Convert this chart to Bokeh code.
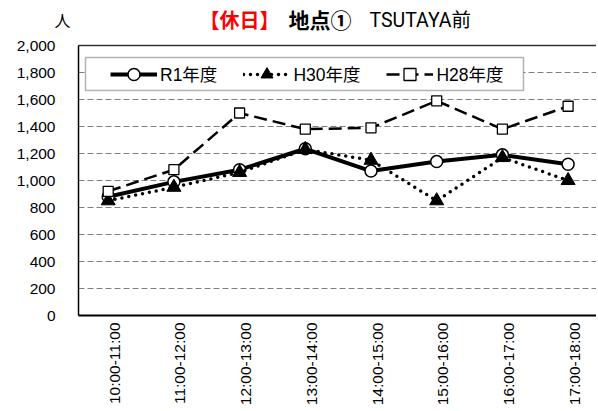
import math
from bokeh.plotting import figure
from bokeh.models import (Range1d, FixedTicker, NumeralTickFormatter, Label, Legend,
                          LegendItem, BoxAnnotation, LinearAxis)
from bokeh.embed import file_html
from bokeh.resources import INLINE

categories = ["10:00-11:00", "11:00-12:00", "12:00-13:00", "13:00-14:00",
              "14:00-15:00", "15:00-16:00", "16:00-17:00", "17:00-18:00"]
r1 = [880, 990, 1080, 1235, 1070, 1140, 1190, 1120]
h30 = [850, 950, 1060, 1230, 1150, 850, 1170, 1000]
h28 = [920, 1080, 1500, 1380, 1390, 1590, 1380, 1550]
series_names = ["R1年度", "H30年度", "H28年度"]
y_ticks = [0, 200, 400, 600, 800, 1000, 1200, 1400, 1600, 1800, 2000]
title_red = "【休日】"
title_black_1 = "地点①"
title_black_2 = "TSUTAYA前"
y_unit = "人"

FONT = "'Liberation Sans', 'Noto Sans CJK JP', sans-serif"
TFONT = "Roboto, 'Noto Sans CJK JP', sans-serif"

W, H = 596, 407
# plot area in canvas pixels
PL, PR, PT, PB = 78, 596, 45, 315
cat_px = 65.7
first_px = 107.7
x_left = -(first_px - PL) / cat_px
x_start = -first_px / cat_px
x_end = (W - first_px) / cat_px
x_right = (PR - first_px) / cat_px
y_per_px = y_ticks[-1] / (PB - PT)
y_start = -(H - PB) * y_per_px
y_end = y_ticks[-1] + PT * y_per_px
label_shift = 6 / cat_px

idx = list(range(len(categories)))

p = figure(width=W, height=H, title=None,
           x_range=Range1d(x_start, x_end), y_range=Range1d(y_start, y_end),
           output_backend="svg", toolbar_location=None,
           min_border=0, min_border_left=0, min_border_right=0,
           min_border_top=0, min_border_bottom=0)
p.outline_line_color = None
p.background_fill_color = "white"
p.border_fill_color = "white"

# horizontal grid lines, limited to the plot area
p.xgrid.visible = False
p.ygrid.visible = False
grid_vals = y_ticks[1:-1]
p.segment(x0=[x_left] * len(grid_vals), y0=grid_vals,
          x1=[x_right] * len(grid_vals), y1=grid_vals,
          line_color="#808080", line_width=1.2, line_dash="6 3")

# y axis
ya = p.yaxis[0]
ya.fixed_location = x_left
ya.bounds = (y_ticks[0], y_ticks[-1])
ya.ticker = FixedTicker(ticks=y_ticks)
ya.formatter = NumeralTickFormatter(format="0,0")
ya.major_tick_line_color = None
ya.minor_tick_line_color = None
ya.major_tick_out = 0
ya.major_tick_in = 0
ya.minor_tick_out = 0
ya.axis_line_color = "black"
ya.axis_line_width = 1.5
ya.major_label_standoff = 23
ya.major_label_text_font = FONT
ya.major_label_text_font_size = "15.5px"
ya.major_label_text_color = "black"

# x axis
xa = p.xaxis[0]
xa.fixed_location = y_ticks[0]
xa.bounds = (x_left, x_right)
x_label_pos = [i + label_shift for i in idx]
xa.ticker = FixedTicker(ticks=x_label_pos)
xa.major_label_overrides = {pos: c for pos, c in zip(x_label_pos, categories)}
xa.major_label_orientation = math.pi / 2
xa.major_tick_line_color = None
xa.minor_tick_line_color = None
xa.major_tick_out = 0
xa.major_tick_in = 0
xa.minor_tick_out = 0
xa.axis_line_color = "black"
xa.axis_line_width = 2
xa.major_label_standoff = 7
xa.major_label_text_font = FONT
xa.major_label_text_font_size = "15.5px"
xa.major_label_text_color = "black"

# top border line of the plot area
top = LinearAxis(fixed_location=y_ticks[-1], bounds=(x_left, x_right),
                 ticker=FixedTicker(ticks=[]), axis_line_color="#333333", axis_line_width=1.5,
                 major_tick_line_color=None, minor_tick_line_color=None,
                 major_tick_out=0, minor_tick_out=0)
p.add_layout(top, "above")

# series
l1 = p.line(idx, r1, line_color="black", line_width=4)
s1 = p.scatter(idx, r1, marker="circle", size=12, fill_color="white", line_color="black", line_width=1.5)
l2 = p.line(idx, h30, line_color="black", line_width=3.5, line_dash="0 7", line_cap="round")
s2 = p.scatter(idx, h30, marker="triangle", size=14, fill_color="black", line_color="black")
l3 = p.line(idx, h28, line_color="black", line_width=2.5, line_dash="13 6")
s3 = p.scatter(idx, h28, marker="square", size=10, fill_color="white", line_color="black", line_width=1.3)

# legend box (screen units from frame bottom-left)
box = BoxAnnotation(left=85, right=523, top=H - 57, bottom=H - 90,
                    left_units="screen", right_units="screen", top_units="screen", bottom_units="screen",
                    fill_color="white", fill_alpha=1.0, line_color="black", line_width=1.5)
p.add_layout(box)

legend = Legend(items=[LegendItem(label=series_names[0], renderers=[l1, s1]),
                       LegendItem(label=series_names[1], renderers=[l2, s2]),
                       LegendItem(label=series_names[2], renderers=[l3, s3])],
                location=(110, H - 73.5 - 15), orientation="horizontal",
                glyph_width=47, glyph_height=30, label_standoff=3, spacing=26,
                padding=5, margin=0, border_line_color=None, background_fill_alpha=0,
                label_text_font=FONT, label_text_font_size="17.5px", label_height=30,
                label_text_color="black")
p.add_layout(legend)

# titles
p.add_layout(Label(x=239, y=H - 20, x_units="screen", y_units="screen", text=title_red,
                   text_color="#FF0000", text_align="center", text_baseline="middle",
                   text_font=TFONT, text_font_size="20px", text_font_style="bold"))
p.add_layout(Label(x=288, y=H - 20, x_units="screen", y_units="screen", text=title_black_1,
                   text_color="black", text_align="left", text_baseline="middle",
                   text_font=TFONT, text_font_size="21px", text_font_style="bold"))
p.add_layout(Label(x=369, y=H - 20, x_units="screen", y_units="screen", text=title_black_2,
                   text_color="black", text_align="left", text_baseline="middle",
                   text_font=TFONT, text_font_size="19.5px"))
p.add_layout(Label(x=62, y=H - 21, x_units="screen", y_units="screen", text=y_unit,
                   text_color="black", text_align="center", text_baseline="middle",
                   text_font=FONT, text_font_size="16px"))

open("out.html", "w").write(file_html(p, INLINE))
